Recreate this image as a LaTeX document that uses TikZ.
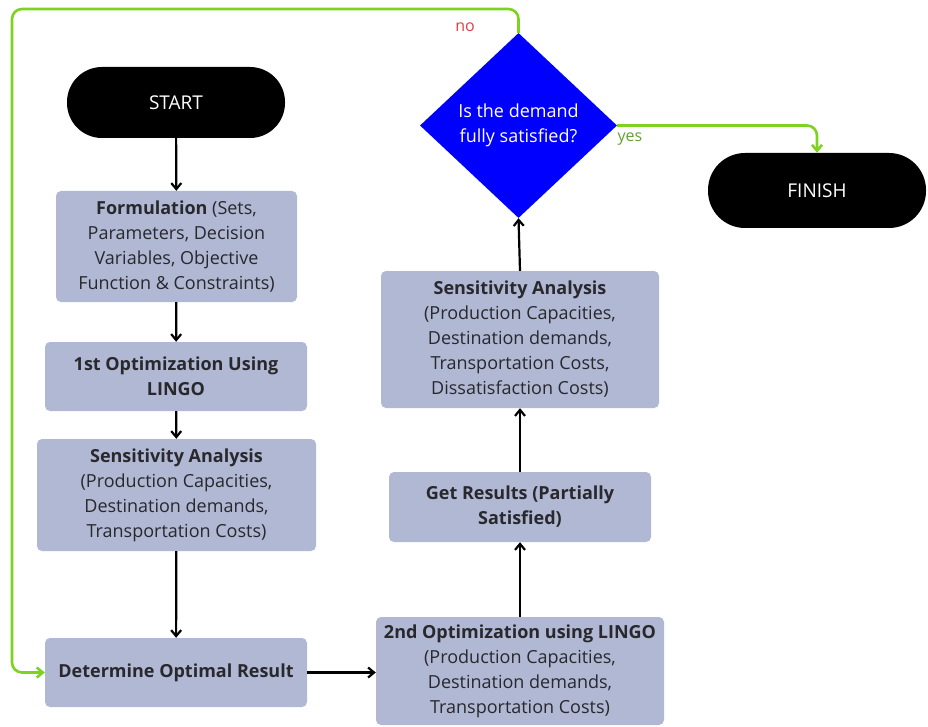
\documentclass[tikz,border=0pt]{standalone}
\usepackage{fontspec}
\setmainfont{Open Sans}
\usetikzlibrary{arrows.meta,shapes.geometric}
\definecolor{boxfill}{RGB}{176,184,212}
\definecolor{flowgreen}{RGB}{126,211,33}
\definecolor{txt}{RGB}{40,40,45}
\definecolor{nored}{RGB}{224,64,64}
\definecolor{yesgreen}{RGB}{100,160,50}
\definecolor{decblue}{RGB}{0,0,255}
\begin{document}
\begin{tikzpicture}[x=1pt,y=-1pt,
  font=\fontsize{18}{25}\selectfont,
  box/.style={fill=boxfill, rounded corners=5pt, text=txt, align=center, inner sep=0pt},
  term/.style={fill=black, text=white, inner sep=0pt, minimum width=218pt, font=\fontsize{19}{25}\selectfont},
  arr/.style={-{Straight Barb[length=6pt,width=10pt]}, line width=2.2pt, black},
  garr/.style={-{Straight Barb[length=6pt,width=10pt]}, line width=2.6pt, flowgreen, rounded corners=10pt},
  lab/.style={font=\fontsize{16}{18}\selectfont, inner sep=0pt}]
\useasboundingbox (0,0) rectangle (928,727);

\node[term, rounded corners=35pt, minimum height=71pt] (start) at (176,102.5) {START};
\node[box, minimum width=241pt, minimum height=111pt] (form) at (176.5,246.5)
  {\textbf{Formulation} (Sets,\\Parameters, Decision\\Variables, Objective\\Function \& Constraints)};
\node[box, minimum width=262pt, minimum height=69pt] (opt1) at (176,376.5)
  {\textbf{1st Optimization Using}\\\textbf{LINGO}};
\node[box, minimum width=279pt, minimum height=112pt] (sens1) at (176.5,495)
  {\textbf{Sensitivity Analysis}\\(Production Capacities,\\Destination demands,\\Transportation Costs)};
\node[box, minimum width=262pt, minimum height=69pt] (det) at (176,672.5)
  {\textbf{Determine Optimal Result}};
\node[box, minimum width=288pt, minimum height=108pt] (opt2) at (520,671)
  {\textbf{2nd Optimization using LINGO}\\(Production Capacities,\\Destination demands,\\Transportation Costs)};
\node[box, minimum width=262pt, minimum height=70pt] (get) at (520,507)
  {\textbf{Get Results (Partially}\\\textbf{Satisfied)}};
\node[box, minimum width=278pt, minimum height=137pt] (sens2) at (520,339.5)
  {\textbf{Sensitivity Analysis}\\(Production Capacities,\\Destination demands,\\Transportation Costs,\\Dissatisfaction Costs)};
\node[diamond, aspect=1.065, fill=decblue, text=white, align=center, inner sep=0pt,
  minimum width=197pt, minimum height=185pt] (dec) at (518.5,125.5)
  {Is the demand\\fully satisfied?};
\node[term, rounded corners=37pt, minimum height=75pt] (fin) at (817,190.5) {FINISH};

\draw[arr] (start) -- (form);
\draw[arr] (form) -- (opt1);
\draw[arr] (opt1) -- (sens1);
\draw[arr] (sens1) -- (det);
\draw[arr] (det.east) -- (det.east -| opt2.west);
\draw[arr] (opt2.north) -- (get.south);
\draw[arr] (get.north) -- (sens2.south);
\draw[arr] (sens2.north) -- (dec.south);

\coordinate (nocorner) at (12,9);
\draw[garr] (dec.north) |- (nocorner) |- (det.west);
\draw[garr] (dec.east) -| (fin.north);

\node[lab, text=nored] (nolab) at (465,27) {no};
\node[lab, text=yesgreen] (yeslab) at (630,139) {yes};
\end{tikzpicture}
\end{document}
